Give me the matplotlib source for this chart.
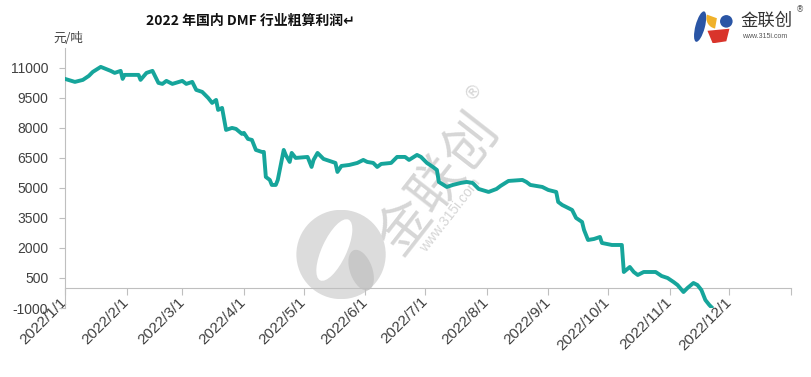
import matplotlib
matplotlib.use('Agg')
import matplotlib.pyplot as plt
import matplotlib.dates as mdates
from matplotlib.patches import Circle, Ellipse, Polygon, Wedge
import pandas as pd

plt.rcParams['font.family'] = ['Liberation Sans', 'Noto Sans CJK SC', 'DejaVu Sans']

# 2022 DMF rough profit, yuan/ton
dates = ['01-01', '01-06', '01-10', '01-13', '01-15', '01-19', '01-24', '01-26', '01-29', '01-30',
         '01-31', '02-07', '02-08', '02-11', '02-14', '02-17', '02-19', '02-21', '02-24', '03-01',
         '03-03', '03-06', '03-08', '03-11', '03-14', '03-16', '03-18', '03-19', '03-21', '03-23',
         '03-26', '03-28', '03-31', '04-01', '04-03', '04-05', '04-07', '04-10', '04-11', '04-12',
         '04-14', '04-15', '04-17', '04-18', '04-21', '04-22', '04-24', '04-25', '04-27', '05-03',
         '05-05', '05-06', '05-08', '05-11', '05-14', '05-17', '05-18', '05-20', '05-24', '05-28',
         '05-31', '06-02', '06-05', '06-07', '06-09', '06-14', '06-17', '06-21', '06-23', '06-27',
         '06-29', '07-02', '07-05', '07-07', '07-08', '07-12', '07-15', '07-19', '07-22', '07-25',
         '07-28', '08-02', '08-06', '08-08', '08-12', '08-19', '08-21', '08-23', '08-29', '09-01',
         '09-05', '09-06', '09-08', '09-11', '09-13', '09-15', '09-18', '09-19', '09-21', '09-24',
         '09-27', '09-28', '10-03', '10-08', '10-09', '10-12', '10-14', '10-16', '10-19', '10-25',
         '10-28', '10-31', '11-03', '11-05', '11-08', '11-10', '11-13', '11-15', '11-17', '11-19',
         '11-21', '11-22']
profit = [10450, 10300, 10400, 10600, 10800, 11050, 10850, 10750, 10850, 10450,
          10650, 10650, 10400, 10750, 10850, 10250, 10200, 10350, 10200, 10350,
          10200, 10300, 9900, 9800, 9500, 9250, 9400, 8900, 9000, 7900,
          8000, 7950, 7700, 7750, 7450, 7400, 6900, 6800, 6800, 5550,
          5400, 5150, 5150, 5400, 6900, 6650, 6300, 6750, 6500, 6550,
          6050, 6400, 6750, 6450, 6350, 6250, 5800, 6100, 6150, 6250,
          6400, 6300, 6250, 6050, 6200, 6250, 6550, 6550, 6400, 6650,
          6550, 6250, 6050, 5900, 5300, 5050, 5150, 5250, 5300, 5250,
          4950, 4800, 4950, 5100, 5350, 5400, 5300, 5150, 5050, 4900,
          4800, 4300, 4150, 4000, 3900, 3500, 3300, 2900, 2400, 2450,
          2550, 2250, 2150, 2150, 800, 1050, 800, 650, 800, 800,
          600, 500, 300, 150, -200, 0, 250, 150, -100, -600,
          -850, -950]
month_ticks = ['2022/%d/1' % m for m in range(1, 13)]
y_ticks = [-1000, 500, 2000, 3500, 5000, 6500, 8000, 9500, 11000]

x = mdates.date2num(pd.to_datetime(['2022-' + d for d in dates]))
tick_x = mdates.date2num(pd.to_datetime([t.replace('/', '-') for t in month_ticks]))
x_end = mdates.date2num(pd.Timestamp('2023-01-01'))

fig = plt.figure(figsize=(8.12, 3.77), dpi=100)
ax = fig.add_axes([0.080, 0.183, 0.894, 0.690])
ax.patch.set_alpha(0)

# watermark behind the chart
wm = '#d6d6d6'
fig.text(0.54, 0.51, '金联创', rotation=52, fontsize=39, color=wm, ha='center', va='center',
         family=['Noto Sans CJK SC'], zorder=-2)
fig.text(0.582, 0.76, '®', rotation=52, fontsize=13, color=wm, ha='center', va='center',
         family=['DejaVu Sans'], zorder=-2)
fig.text(0.555, 0.43, 'www.315i.com', rotation=52, fontsize=10, color=wm, ha='center', va='center',
         zorder=-2)
wax = fig.add_axes([0.365, 0.19, 0.11, 0.27], zorder=-1)
wax.set_xlim(-1, 1)
wax.set_ylim(-1, 1)
wax.set_aspect('equal')
wax.axis('off')
wax.add_patch(Circle((0, 0), 1.0, color='#dcdcdc', lw=0))
wax.add_patch(Ellipse((-0.15, 0.1), 0.55, 1.5, angle=-25, color='white', lw=0))
wax.add_patch(Ellipse((0.45, -0.35), 0.5, 0.95, angle=20, color='#c8c8c8', lw=0))

ax.plot(x, profit, color='#16A59B', lw=2.8, solid_joinstyle='round', zorder=3)

ax.set_xlim(tick_x[0], x_end)
ax.set_ylim(-1000, 12000)
ax.set_yticks(y_ticks)
ax.set_yticklabels([str(v) for v in y_ticks])

for s in ['top', 'right']:
    ax.spines[s].set_visible(False)
ax.spines['left'].set_color('#bfbfbf')
ax.spines['bottom'].set_color('#bfbfbf')
ax.spines['bottom'].set_position(('data', 0))
ax.set_xticks(list(tick_x) + [x_end])
ax.tick_params(axis='x', direction='out', length=5, color='#bfbfbf', labelbottom=False)
ax.tick_params(axis='y', direction='out', length=4, color='#bfbfbf', labelsize=10,
               labelcolor='#404040', pad=8)

sec = ax.secondary_xaxis(0)
sec.spines['bottom'].set_visible(False)
sec.set_xticks(tick_x)
sec.set_xticklabels(month_ticks, rotation=45, ha='right', va='center', rotation_mode='anchor')
sec.tick_params(axis='x', length=0, pad=-6, labelsize=11, labelcolor='#404040')

fig.text(0.308, 0.945, '2022 年国内 DMF 行业粗算利润↵', fontsize=10, fontweight='bold', ha='center',
         va='center', color='#111111', family=['Noto Sans CJK SC', 'DejaVu Sans'])
fig.text(0.066, 0.897, '元/吨', fontsize=9, ha='left', va='center', color='#404040',
         family=['Noto Sans CJK SC'])

# company logo, top right
lax = fig.add_axes([0.850, 0.885, 0.058, 0.100])
lax.set_xlim(0, 42)
lax.set_ylim(36, 0)
lax.set_aspect('equal')
lax.axis('off')
lax.add_patch(Ellipse((8, 20), 9, 30, angle=15, color='#2a55a5', lw=0))
lax.add_patch(Wedge((24, 12), 10, 100, 200, color='#f0b12a', lw=0))
lax.add_patch(Circle((33, 15), 6, color='#2a55a5', lw=0))
lax.add_patch(Polygon([[15, 24], [36, 22], [33, 34], [20, 36]], closed=True, color='#d9342b', lw=0))
fig.text(0.912, 0.945, '金联创', fontsize=12.5, ha='left', va='center', color='#333333',
         family=['Noto Sans CJK SC'])
fig.text(0.985, 0.975, '®', fontsize=6, ha='center', va='center', color='#555555',
         family=['DejaVu Sans'])
fig.text(0.914, 0.902, 'www.315i.com', fontsize=5, ha='left', va='center', color='#555555')

fig.savefig('out.png', dpi=100)
